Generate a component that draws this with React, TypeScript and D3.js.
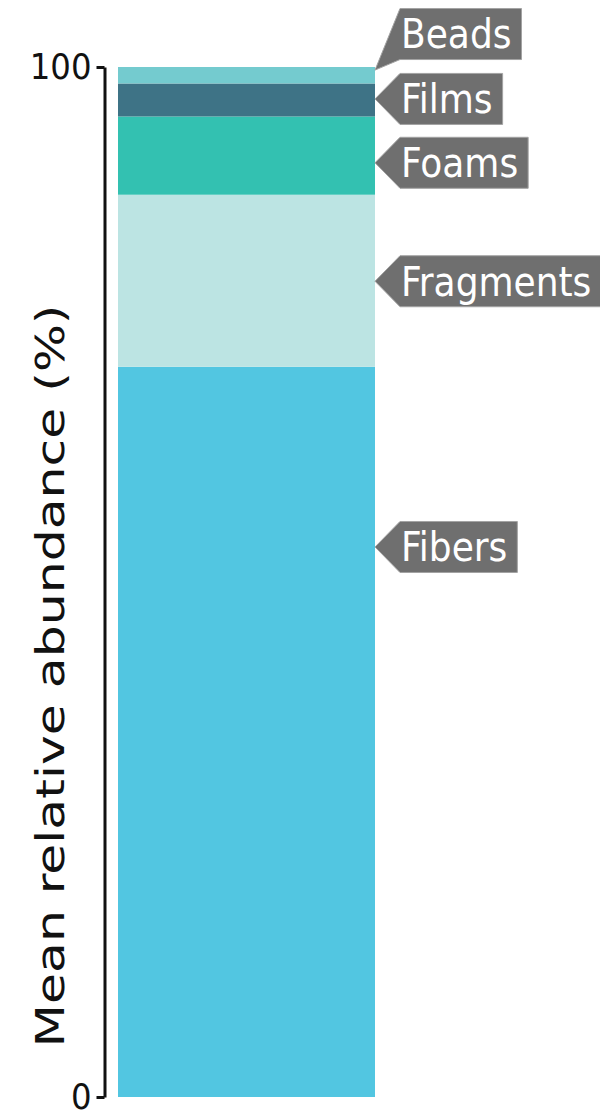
import React, { useEffect, useRef } from "react";
import * as d3 from "d3";

// Mean relative abundance of each particle type (%), bottom to top
const categories = ["Fibers", "Fragments", "Foams", "Films", "Beads"];
const abundance = [70.9, 16.7, 7.6, 3.2, 1.6];
const colors = ["#52C6E1", "#BCE4E3", "#33C1B1", "#3E7386", "#74CBCF"];

// where each callout points on the value axis, and where its box sits
const calloutTip = [53.4, 79.2, 90.7, 96.9, 99.7];
const calloutBox = [53.4, 79.2, 90.7, 96.9, 103.2];

const yTicks = [0, 100];
const yTitle = "Mean relative abundance (%)";

const FONT = "'DejaVu Sans Condensed', 'DejaVu Sans', sans-serif";

const App: React.FC = () => {
  const svgRef = useRef<SVGSVGElement | null>(null);

  useEffect(() => {
    if (!svgRef.current) return;
    const width = 600;
    const height = 1112;

    d3.select(svgRef.current).selectAll("*").remove();
    const svg = d3
      .select(svgRef.current)
      .attr("width", width)
      .attr("height", height)
      .attr("viewBox", `0 0 ${width} ${height}`);

    const yScale = d3.scaleLinear().domain([0, 100]).range([1097, 67]);
    const xScale = d3.scaleBand<string>().domain(["all"]).range([118, 375]).padding(0);

    // stack the single bar
    const row: Record<string, number> = {};
    categories.forEach((c, i) => (row[c] = abundance[i]));
    const stacked = d3.stack<Record<string, number>>().keys(categories)([row]);

    svg
      .append("g")
      .selectAll("rect")
      .data(stacked)
      .enter()
      .append("rect")
      .attr("x", xScale("all") as number)
      .attr("width", xScale.bandwidth())
      .attr("y", (d) => yScale(d[0][1]))
      .attr("height", (d) => yScale(d[0][0]) - yScale(d[0][1]))
      .attr("fill", (d, i) => colors[i]);

    // Y axis
    const axis = svg
      .append("g")
      .attr("transform", "translate(104.5,0)")
      .call(
        d3
          .axisLeft(yScale)
          .tickValues(yTicks)
          .tickSize(8)
          .tickSizeOuter(0)
          .tickPadding(5)
          .tickFormat(d3.format("d"))
      );
    axis.select(".domain").attr("stroke", "#111").attr("stroke-width", 3);
    axis.selectAll(".tick line").attr("stroke", "#111").attr("stroke-width", 3);
    axis
      .selectAll(".tick text")
      .attr("fill", "#111")
      .attr("font-family", FONT)
      .attr("font-size", "36px");

    svg
      .append("text")
      .attr("transform", `translate(64,676) rotate(-90)`)
      .attr("text-anchor", "middle")
      .attr("font-family", FONT)
      .attr("font-size", "39px")
      .attr("fill", "#111")
      .attr("textLength", 743)
      .attr("lengthAdjust", "spacingAndGlyphs")
      .text(yTitle);

    // Callout labels
    const barRight = (xScale("all") as number) + xScale.bandwidth();
    const boxLeft = barRight + 25;
    const boxH = 51;

    categories.forEach((name, i) => {
      const g = svg.append("g");
      const path = g.append("path");
      const boxY = yScale(calloutBox[i]);
      const tipY = yScale(calloutTip[i]);
      const label = g
        .append("text")
        .attr("x", boxLeft + 1)
        .attr("y", boxY)
        .attr("dy", "0.36em")
        .attr("fill", "white")
        .attr("font-family", FONT)
        .attr("font-size", "40px")
        .text(name);
      const w = (label.node() as SVGTextElement).getComputedTextLength() + 11;
      const top = boxY - boxH / 2;
      const bottom = boxY + boxH / 2;
      path
        .attr(
          "d",
          `M${barRight},${tipY}L${boxLeft},${top}L${boxLeft + w},${top}L${boxLeft + w},${bottom}L${boxLeft},${bottom}Z`
        )
        .attr("fill", "#6f6f6f")
        .attr("stroke", "#a3a3a3")
        .attr("stroke-width", 1);
    });
  }, []);

  return (
    <svg
      ref={svgRef}
      style={{ position: "absolute", left: 0, top: 0, background: "white" }}
    />
  );
};

export default App;
